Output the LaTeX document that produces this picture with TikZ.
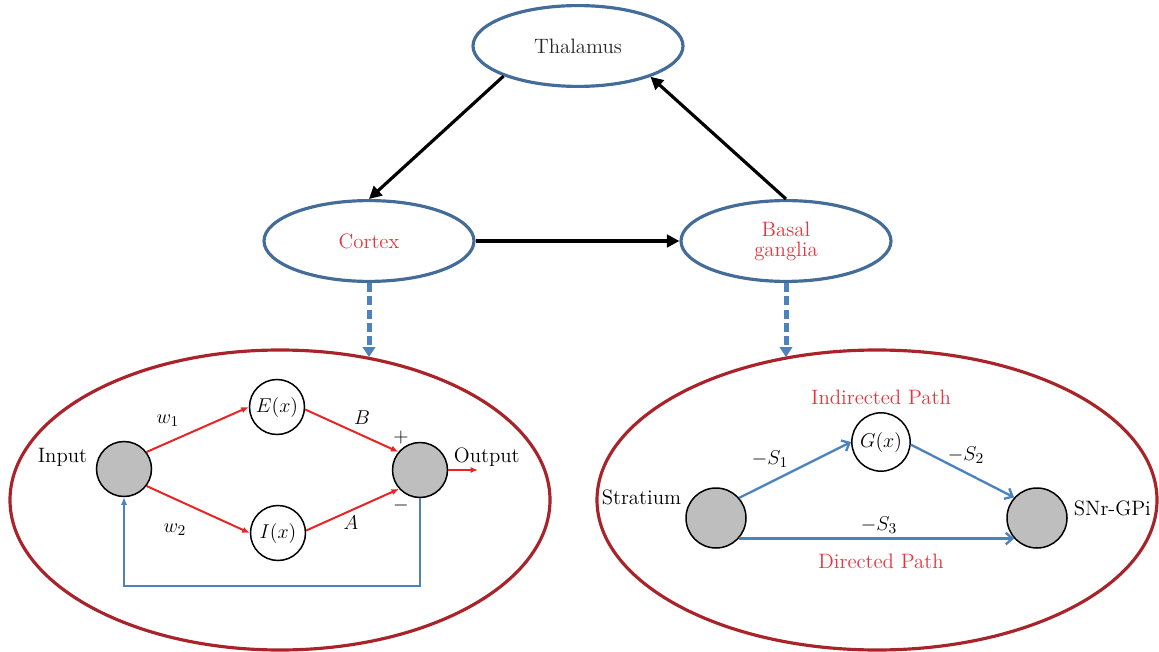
\documentclass[tikz,border=0pt]{standalone}
\usetikzlibrary{shapes.geometric,arrows.meta}
\definecolor{ellblue}{RGB}{68,108,152}
\definecolor{ellred}{RGB}{168,36,42}
\definecolor{arrred}{RGB}{232,36,36}
\definecolor{arrblue}{RGB}{76,130,190}
\definecolor{txtred}{RGB}{232,50,60}
\definecolor{cgray}{RGB}{190,190,190}
\begin{document}
\begin{tikzpicture}[x=0.6pt,y=-0.6pt,
  every node/.style={font=\fontsize{12.5}{15}\selectfont},
  topell/.style={ellipse,draw=ellblue,line width=1.9pt,minimum width=126pt,minimum height=48.5pt,inner sep=0pt},
  bigell/.style={ellipse,draw=ellred,line width=1.9pt,inner sep=0pt},
  grayc/.style={circle,draw,fill=cgray,line width=0.9pt,inner sep=0pt},
  whitec/.style={circle,draw,line width=0.9pt,inner sep=0pt,minimum size=33pt},
  blk/.style={line width=1.9pt,-{Triangle[length=7.5pt,width=7.5pt]}},
  redarr/.style={draw=arrred,line width=1.2pt,-{Latex[length=4.5pt,width=3.8pt]}},
  bluearr/.style={draw=arrblue,line width=1.4pt,-{Straight Barb[length=4pt,width=7pt]}},
  fbarr/.style={draw=arrblue,line width=1.4pt,-{Latex[length=4.5pt,width=3.8pt]}},
  dashb/.style={draw=arrblue,line width=3pt,dash pattern=on 5.4pt off 2.6pt,-{Triangle[length=6pt,width=7.5pt]}},
  redtxt/.style={text=txtred}]
\useasboundingbox (0,0) rectangle (1159,652);
% top level
\node[topell,text=black!85] (thal) at (578,46) {Thalamus};
\node[topell,redtxt] (cortex) at (369,241) {Cortex};
\node[topell,redtxt,align=center] (basal) at (786,241) {Basal\\[-3pt]ganglia};
\draw[blk] (thal.202.5) -- (cortex.north);
\draw[blk] (basal.north) -- (thal.-23);
\draw[blk] (cortex.east) -- (basal.west);
% big ellipses
\node[bigell,minimum width=324pt,minimum height=180pt] (left) at (280,500) {};
\node[bigell,minimum width=336pt,minimum height=180pt] (right) at (877,500) {};
\coordinate (ltip) at (369,357);
\coordinate (rtip) at (786,357);
\draw[dashb] (cortex.south) -- (ltip);
\draw[dashb] (basal.south) -- (rtip);
% left network
\node[grayc,minimum size=33pt] (in) at (124,469) {};
\node[whitec] (E) at (277,407) {$E(x)$};
\node[whitec] (I) at (278,533) {$I(x)$};
\node[grayc,minimum size=33pt] (out) at (420,470) {};
\node[anchor=east] (inlab) at (93,457) {Input};
\node[anchor=west] (outlab) at (448,457) {Output};
\coordinate (outend) at (478,470);
\coordinate (fbline) at (0,586);
\draw[redarr] (in.37) -- (E.west);
\draw[redarr] (in.-37) -- (I.west);
\draw[redarr] (E.-5) -- (out.140);
\draw[redarr] (I.5) -- (out.222);
\draw[redarr] (out.east) -- (outend);
\draw[fbarr] (out.south) -- (out.south |- fbline) -| (in.south);
\node (w1) at (168,421) {$w_{1}$};
\node (w2) at (175,530) {$w_{2}$};
\node (B) at (362,418) {$B$};
\node (A) at (351,523) {$A$};
\node (plus) at (401,437) {$+$};
\node (minus) at (401,505) {$-$};
% right network
\node[grayc,minimum size=36pt] (st) at (716,518) {};
\node[grayc,minimum size=36pt] (snr) at (1037,518) {};
\node[whitec,minimum size=35pt] (G) at (881,442) {$G(x)$};
\node[anchor=east] (stlab) at (687,497) {Stratium};
\node[anchor=west] (snrlab) at (1068,508) {SNr-GPi};
\draw[bluearr] (st.41) -- (G.west);
\draw[bluearr] (G.-5) -- (snr.138);
\draw[bluearr] (st.-42) -- (snr.222);
\node[redtxt] (ind) at (881,397) {Indirected Path};
\node[redtxt] (dir) at (881,561) {Directed Path};
\node (s1) at (770,459) {$-S_{1}$};
\node (s2) at (966,455) {$-S_{2}$};
\node (s3) at (879,525) {$-S_{3}$};
\end{tikzpicture}
\end{document}
